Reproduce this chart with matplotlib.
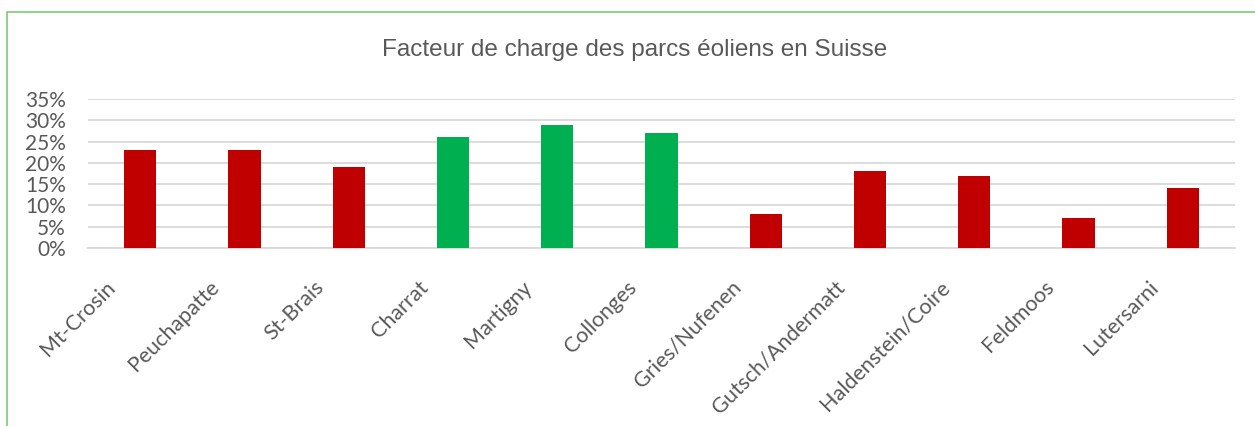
import matplotlib
matplotlib.use("Agg")
import matplotlib.pyplot as plt
from matplotlib.patches import Rectangle
from matplotlib.ticker import PercentFormatter

parcs = ["Mt-Crosin", "Peuchapatte", "St-Brais", "Charrat", "Martigny", "Collonges",
         "Gries/Nufenen", "Gutsch/Andermatt", "Haldenstein/Coire", "Feldmoos", "Lutersarni"]
facteur = [0.23, 0.23, 0.19, 0.26, 0.29, 0.27, 0.08, 0.18, 0.17, 0.07, 0.14]
valais = [False, False, False, True, True, True, False, False, False, False, False]

ROUGE = "#C00000"
VERT = "#00B050"
couleurs = [VERT if v else ROUGE for v in valais]

fig = plt.figure(figsize=(12.55, 4.26), dpi=100)
ax = fig.add_axes([88 / 1255, 1 - 248 / 426, (1235 - 88) / 1255, (248 - 99) / 426])

x = list(range(len(parcs)))
ax.bar(x, facteur, width=0.31, color=couleurs, zorder=3)

ax.set_xlim(-0.5, len(parcs) - 0.5)
ax.set_ylim(0, 0.35)
ax.set_yticks([i * 0.05 for i in range(8)])
ax.yaxis.set_major_formatter(PercentFormatter(1.0, decimals=0))
ax.grid(axis="y", color="#D9D9D9", linewidth=1.3, zorder=0)
for s in ["top", "right", "left"]:
    ax.spines[s].set_visible(False)
ax.spines["bottom"].set_color("#D9D9D9")
ax.spines["bottom"].set_linewidth(1.3)
ax.tick_params(axis="both", length=0, colors="#595959")

# labels decales a gauche comme dans Excel
ax.set_xticks([i - 0.27 for i in x])
ax.set_xticklabels(parcs, rotation=45, ha="right", va="center",
                   rotation_mode="anchor", fontsize=15.5, family=["Lato", "DejaVu Sans"])
for lab in ax.get_yticklabels():
    lab.set_fontsize(15)
    lab.set_family(["Lato", "DejaVu Sans"])
ax.tick_params(axis="x", pad=26)
ax.tick_params(axis="y", pad=16)

fig.text(635 / 1255, 1 - 50 / 426, "Facteur de charge des parcs éoliens en Suisse",
         ha="center", va="center", fontsize=17.5, color="#595959",
         family=["Liberation Sans", "DejaVu Sans"])

fig.patches.append(Rectangle((7 / 1255, -0.1), 1.2, 1.1 - 12 / 426, transform=fig.transFigure,
                             fill=False, edgecolor="#7DCB72", linewidth=1.2))

fig.savefig("out.png", dpi=100, facecolor="white")
